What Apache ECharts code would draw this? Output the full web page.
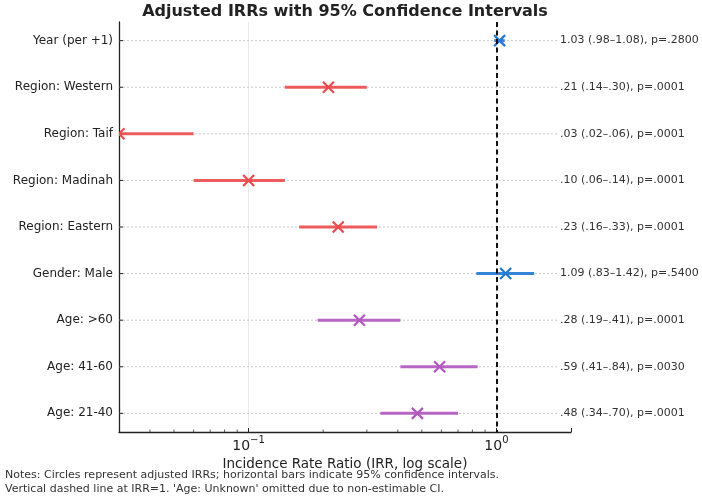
<!DOCTYPE html>
<html><head><meta charset="utf-8">
<script src="https://cdn.jsdelivr.net/npm/echarts@6/dist/echarts.min.js"></script>
<style>html,body{margin:0;padding:0;background:#fff}#c{width:702px;height:496px}</style>
</head><body><div id="c"></div>
<script>
const categories = ['Year (per +1)', 'Region: Western', 'Region: Taif', 'Region: Madinah', 'Region: Eastern', 'Gender: Male', 'Age: >60', 'Age: 41-60', 'Age: 21-40'];
const irr = [1.03, 0.21, 0.03, 0.10, 0.23, 1.09, 0.28, 0.59, 0.48];
const ciLow = [0.98, 0.14, 0.02, 0.06, 0.16, 0.83, 0.19, 0.41, 0.34];
const ciHigh = [1.08, 0.30, 0.06, 0.14, 0.33, 1.42, 0.41, 0.84, 0.70];
const pValues = [0.28, 0.0001, 0.0001, 0.0001, 0.0001, 0.54, 0.0001, 0.003, 0.0001];
const groups = ['other', 'region', 'region', 'region', 'region', 'other', 'age', 'age', 'age'];
const minorTickValues = [0.04, 0.05, 0.06, 0.07, 0.08, 0.09, 0.2, 0.3, 0.4, 0.5, 0.6, 0.7, 0.8, 0.9];
const referenceIRR = 1;
const xMin = 0.03, xMax = 2;

const groupColors = { other: '#2079d4', region: '#ec4a4c', age: '#b057c0' };
const FONT = 'DejaVu Sans';

function f2(v) { const s = v.toFixed(2); return s.charAt(0) === '0' ? s.slice(1) : s; }
function f4(v) { const s = v.toFixed(4); return s.charAt(0) === '0' ? s.slice(1) : s; }

const chart = echarts.init(document.getElementById('c'), null, { renderer: 'canvas' });

const option = {
  animation: false,
  backgroundColor: '#fff',
  textStyle: { fontFamily: FONT },
  grid: { left: 119, right: 131, top: 22, bottom: 64, containLabel: false },
  xAxis: {
    type: 'log', logBase: 10, min: xMin, max: xMax,
    axisLine: { show: true, onZero: false, lineStyle: { color: '#222', width: 1.3 } },
    axisTick: { show: true, inside: true, length: 4, lineStyle: { color: '#222', width: 1 } },
    axisLabel: {
      margin: 3,
      formatter: function (v) {
        const l = Math.log10(v);
        if (Math.abs(l - Math.round(l)) > 1e-6) return '';
        const e = Math.round(l);
        return '{b|10}{s|' + (e < 0 ? '\u2212' + (-e) : e) + '}';
      },
      rich: {
        b: { fontSize: 14, color: '#222', fontFamily: FONT, lineHeight: 18, verticalAlign: 'bottom' },
        s: { fontSize: 10, color: '#222', fontFamily: FONT, verticalAlign: 'top', lineHeight: 12 }
      }
    },
    splitLine: { show: true, showMinLine: false, showMaxLine: false, lineStyle: { color: '#ebebeb', width: 1 } },
    name: 'Incidence Rate Ratio (IRR, log scale)',
    nameLocation: 'middle', nameGap: 15,
    nameTextStyle: { fontSize: 13.5, color: '#222', fontFamily: FONT }
  },
  yAxis: {
    type: 'value', min: -0.4, max: 8.4, inverse: true, minInterval: 1, maxInterval: 1,
    axisLine: { show: true, onZero: false, lineStyle: { color: '#222', width: 1.3 } },
    axisTick: { show: false },
    splitLine: { show: false },
    axisLabel: {
      margin: 6, fontSize: 12, color: '#222', fontFamily: FONT,
      formatter: function (v) {
        const r = Math.round(v);
        if (Math.abs(v - r) > 1e-6 || !categories[r]) return '';
        return categories[r];
      }
    }
  },
  graphic: [
    { type: 'text', x: 345, y: 12, style: { text: 'Adjusted IRRs with 95% Confidence Intervals', font: 'bold 16px "DejaVu Sans"', fill: '#222', textAlign: 'center', textVerticalAlign: 'middle' } },
    { type: 'text', x: 5, y: 475, style: { text: 'Notes: Circles represent adjusted IRRs; horizontal bars indicate 95% confidence intervals.', font: '11px "DejaVu Sans"', fill: '#333', textAlign: 'left', textVerticalAlign: 'middle' } },
    { type: 'text', x: 5, y: 489, style: { text: "Vertical dashed line at IRR=1. 'Age: Unknown' omitted due to non-estimable CI.", font: '11px "DejaVu Sans"', fill: '#333', textAlign: 'left', textVerticalAlign: 'middle' } }
  ],
  series: [
    {
      name: 'rows', type: 'custom', z: 1, silent: true, clip: false,
      data: categories.map((c, i) => [referenceIRR, i]),
      encode: { x: 0, y: 1 },
      renderItem: function (params, api) {
        const cs = params.coordSys;
        const y = api.coord([referenceIRR, api.value(1)])[1];
        return { type: 'group', children: [
          { type: 'line', shape: { x1: cs.x, y1: y, x2: cs.x + cs.width, y2: y }, style: { stroke: '#c9c9c9', lineWidth: 1, lineDash: [2, 2] } },
          { type: 'line', shape: { x1: cs.x, y1: y, x2: cs.x + 4, y2: y }, style: { stroke: '#222', lineWidth: 1 } }
        ] };
      }
    },
    {
      name: 'minorTicks', type: 'custom', z: 3, silent: true, clip: false,
      data: minorTickValues.map(v => [v, 0]),
      encode: { x: 0, y: 1 },
      renderItem: function (params, api) {
        const cs = params.coordSys;
        const x = api.coord([api.value(0), 0])[0];
        const b = cs.y + cs.height;
        return { type: 'line', shape: { x1: x, y1: b, x2: x, y2: b - 2.5 }, style: { stroke: '#333', lineWidth: 0.8 } };
      }
    },
    {
      name: 'ref', type: 'line', data: [], z: 2,
      markLine: {
        silent: true, symbol: 'none', animation: false,
        label: { show: false },
        lineStyle: { color: '#111', width: 2, type: [5, 3.5] },
        data: [{ xAxis: referenceIRR }]
      }
    },
    {
      name: 'irr', type: 'custom', z: 4, clip: true, silent: true,
      data: categories.map((c, i) => [i, ciLow[i], ciHigh[i], irr[i]]),
      encode: { x: [1, 2, 3], y: 0 },
      renderItem: function (params, api) {
        const i = api.value(0);
        const p1 = api.coord([api.value(1), i]);
        const p2 = api.coord([api.value(2), i]);
        const pc = api.coord([api.value(3), i]);
        const color = groupColors[groups[i]];
        const s = 5.5;
        return { type: 'group', children: [
          { type: 'line', shape: { x1: p1[0], y1: p1[1], x2: p2[0], y2: p2[1] }, style: { stroke: color, lineWidth: 3, opacity: 0.9 } },
          { type: 'line', shape: { x1: pc[0] - s, y1: pc[1] - s, x2: pc[0] + s, y2: pc[1] + s }, style: { stroke: color, lineWidth: 2.2 } },
          { type: 'line', shape: { x1: pc[0] - s, y1: pc[1] + s, x2: pc[0] + s, y2: pc[1] - s }, style: { stroke: color, lineWidth: 2.2 } }
        ] };
      }
    },
    {
      name: 'annotations', type: 'custom', z: 5, clip: false, silent: true,
      data: categories.map((c, i) => [referenceIRR, i]),
      encode: { x: 0, y: 1 },
      renderItem: function (params, api) {
        const cs = params.coordSys;
        const i = api.value(1);
        const y = api.coord([referenceIRR, i])[1];
        const txt = f2(irr[i]) + ' (' + f2(ciLow[i]) + '\u2013' + f2(ciHigh[i]) + '), p=' + f4(pValues[i]);
        return { type: 'text', x: cs.x + cs.width - 14, y: y, style: { text: txt, font: '11px "DejaVu Sans"', fill: '#333', textAlign: 'left', textVerticalAlign: 'middle', backgroundColor: '#fff', padding: [1, 0, 1, 3] } };
      }
    }
  ]
};
chart.setOption(option);
</script>
</body></html>
